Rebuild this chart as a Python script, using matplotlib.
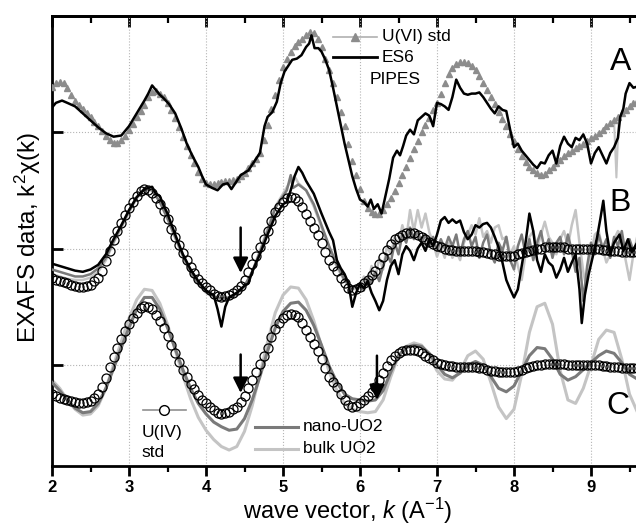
import numpy as np
import matplotlib
matplotlib.use("Agg")
import matplotlib.pyplot as plt
from matplotlib.ticker import MultipleLocator

plt.rcParams['font.family'] = ['Liberation Sans', 'DejaVu Sans']
plt.rcParams['mathtext.fontset'] = 'custom'
plt.rcParams['mathtext.rm'] = 'Liberation Sans'
plt.rcParams['mathtext.it'] = 'Liberation Sans:italic'

# ---- data ----
# panel A: U(VI) std, k = 2.00 .. 9.60 in 0.05 steps
uvi_std = [
    0.39, 0.42, 0.43, 0.42, 0.38, 0.32, 0.27, 0.23, 0.20, 0.16,
    0.13, 0.09, 0.05, 0.01, -0.03, -0.07, -0.09, -0.09, -0.07, -0.03,
    0.02, 0.07, 0.13, 0.18, 0.23, 0.30, 0.34, 0.35, 0.33, 0.30,
    0.25, 0.19, 0.12, 0.04, -0.04, -0.12, -0.20, -0.27, -0.34, -0.40,
    -0.44, -0.45, -0.45, -0.44, -0.43, -0.42, -0.42, -0.41, -0.40, -0.38,
    -0.35, -0.31, -0.27, -0.23, -0.18, -0.07, 0.06, 0.20, 0.32, 0.45,
    0.56, 0.63, 0.69, 0.74, 0.77, 0.80, 0.83, 0.86, 0.85, 0.80,
    0.73, 0.63, 0.53, 0.42, 0.30, 0.17, 0.05, -0.10, -0.25, -0.37,
    -0.49, -0.59, -0.65, -0.69, -0.70, -0.70, -0.67, -0.62, -0.57, -0.51,
    -0.44, -0.37, -0.30, -0.22, -0.15, -0.08, 0.00, 0.06, 0.12, 0.19,
    0.25, 0.33, 0.42, 0.50, 0.55, 0.58, 0.60, 0.60, 0.59, 0.57,
    0.53, 0.48, 0.42, 0.36, 0.30, 0.24, 0.17, 0.11, 0.05, -0.02,
    -0.08, -0.15, -0.21, -0.26, -0.30, -0.33, -0.35, -0.37, -0.36, -0.33,
    -0.30, -0.27, -0.24, -0.21, -0.18, -0.16, -0.14, -0.12, -0.10, -0.08,
    -0.05, -0.03, -0.01, 0.02, 0.05, 0.08, 0.10, 0.13, 0.16, 0.19,
    0.22, 0.25, 0.27,
]
uvi_glitch_k = [9.30, 9.33, 9.36]
uvi_glitch = [0.09, -0.39, 0.13]

es6_k = [
    2.00, 2.05, 2.13, 2.20, 2.30, 2.40, 2.50, 2.60, 2.70, 2.80, 2.90, 3.00,
    3.10, 3.20, 3.25, 3.30, 3.35, 3.40, 3.45, 3.52, 3.60, 3.68, 3.75, 3.82,
    3.90, 3.95, 4.00, 4.08, 4.15, 4.22, 4.28, 4.33, 4.40, 4.45, 4.50, 4.55,
    4.62, 4.70, 4.76, 4.80, 4.86, 4.92, 4.97, 5.02, 5.08, 5.12, 5.18, 5.24,
    5.30, 5.34, 5.37, 5.41, 5.46, 5.50, 5.55, 5.60, 5.65, 5.70, 5.75, 5.80,
    5.85, 5.90, 5.95, 6.00, 6.05, 6.10, 6.14, 6.18, 6.23, 6.28, 6.33, 6.38,
    6.43, 6.48, 6.52, 6.56, 6.60, 6.65, 6.70, 6.75, 6.80, 6.85, 6.90, 6.95,
    7.00, 7.05, 7.10, 7.15, 7.20, 7.25, 7.30, 7.35, 7.40, 7.45, 7.50, 7.55,
    7.60, 7.65, 7.70, 7.75, 7.80, 7.85, 7.90, 7.95, 8.00, 8.05, 8.10, 8.15,
    8.20, 8.25, 8.30, 8.35, 8.40, 8.45, 8.50, 8.55, 8.60, 8.65, 8.70, 8.75,
    8.80, 8.85, 8.90, 8.95, 9.00, 9.05, 9.10, 9.15, 9.20, 9.25, 9.30, 9.35,
    9.38, 9.42, 9.45, 9.50, 9.55, 9.60,
]
es6_pipes = [
    0.21, 0.25, 0.27, 0.25, 0.22, 0.16, 0.10, 0.04, -0.01, -0.04, -0.03, 0.05,
    0.16, 0.27, 0.33, 0.40, 0.36, 0.32, 0.29, 0.24, 0.16, 0.03, -0.10, -0.20,
    -0.30, -0.38, -0.45, -0.48, -0.50, -0.45, -0.44, -0.49, -0.42, -0.37, -0.35, -0.33,
    -0.26, -0.18, 0.05, 0.13, 0.17, 0.26, 0.42, 0.52, 0.58, 0.62, 0.63, 0.66,
    0.73, 0.76, 0.83, 0.72, 0.72, 0.69, 0.62, 0.53, 0.38, 0.22, 0.06, -0.10,
    -0.24, -0.38, -0.49, -0.58, -0.60, -0.64, -0.58, -0.66, -0.62, -0.70, -0.55, -0.40,
    -0.22, -0.16, -0.20, -0.12, -0.03, 0.02, -0.02, 0.10, 0.13, 0.16, 0.14, 0.05,
    0.25, 0.24, 0.22, 0.19, 0.30, 0.45, 0.38, 0.33, 0.32, 0.33, 0.33, 0.34,
    0.30, 0.25, 0.20, 0.16, 0.22, 0.19, 0.18, 0.02, -0.13, -0.10, -0.16, -0.20,
    -0.24, -0.28, -0.31, -0.26, -0.27, -0.20, -0.16, -0.27, -0.12, -0.04, -0.10, -0.13,
    -0.05, -0.07, -0.02, -0.10, -0.27, -0.18, -0.13, -0.20, -0.27, -0.18, -0.13, -0.05,
    0.13, 0.20, 0.33, 0.42, 0.38, 0.39,
]

# U(IV) std (shown in B and C), k = 2.00 .. 9.60 in 0.05 steps
uiv_std = [
    -0.25, -0.27, -0.28, -0.29, -0.30, -0.31, -0.32, -0.33, -0.33, -0.32,
    -0.31, -0.28, -0.25, -0.19, -0.11, -0.02, 0.07, 0.15, 0.22, 0.29,
    0.35, 0.40, 0.45, 0.49, 0.51, 0.50, 0.48, 0.43, 0.38, 0.32,
    0.25, 0.17, 0.10, 0.03, -0.04, -0.10, -0.16, -0.21, -0.26, -0.30,
    -0.33, -0.36, -0.39, -0.41, -0.42, -0.41, -0.40, -0.38, -0.36, -0.32,
    -0.27, -0.20, -0.13, -0.06, 0.01, 0.08, 0.15, 0.24, 0.31, 0.36,
    0.40, 0.43, 0.44, 0.43, 0.41, 0.36, 0.30, 0.24, 0.18, 0.12,
    0.05, -0.03, -0.10, -0.15, -0.19, -0.25, -0.30, -0.34, -0.36, -0.35,
    -0.33, -0.30, -0.27, -0.23, -0.19, -0.13, -0.07, -0.01, 0.04, 0.08,
    0.10, 0.12, 0.13, 0.13, 0.13, 0.12, 0.10, 0.08, 0.06, 0.04,
    0.02, 0.01, 0.00, -0.01, -0.01, -0.02, -0.02, -0.02, -0.02, -0.02,
    -0.02, -0.03, -0.03, -0.04, -0.05, -0.05, -0.06, -0.06, -0.06, -0.06,
    -0.06, -0.05, -0.04, -0.03, -0.02, -0.01, 0.00, 0.00, 0.01, 0.01,
    0.01, 0.01, 0.01, 0.01, 0.00, 0.00, 0.00, 0.00, 0.00, 0.00,
    0.00, 0.00, 0.00, -0.01, -0.01, -0.02, -0.02, -0.02, -0.03, -0.03,
    -0.03, -0.03, -0.03,
]

# panel B samples
b_black_k = [
    2.0, 2.1, 2.2, 2.3, 2.4, 2.5, 2.6, 2.7, 2.8, 2.9, 3.0, 3.1, 3.2, 3.3, 3.35,
    3.4, 3.45, 3.5, 3.6, 3.7, 3.8, 3.9, 4.0, 4.1, 4.15, 4.2, 4.25, 4.3, 4.4, 4.5,
    4.55, 4.6, 4.7, 4.8, 4.9, 5.0, 5.05, 5.1, 5.15, 5.2, 5.25, 5.3, 5.4, 5.5, 5.6,
    5.65, 5.7, 5.75, 5.8, 5.85, 5.9, 5.95, 6.0, 6.05, 6.1, 6.15, 6.2, 6.25, 6.3,
    6.35, 6.4, 6.45, 6.5, 6.55, 6.6, 6.65, 6.7, 6.75, 6.8, 6.85, 6.9, 6.95, 7.0,
    7.05, 7.1, 7.15, 7.2, 7.25, 7.3, 7.35, 7.4, 7.45, 7.5, 7.55, 7.6, 7.65, 7.7,
    7.75, 7.8, 7.85, 7.9, 7.95, 8.0, 8.05, 8.1, 8.15, 8.2, 8.25, 8.3, 8.35, 8.4,
    8.45, 8.5, 8.55, 8.6, 8.65, 8.7, 8.75, 8.8, 8.85, 8.88, 8.92, 8.97, 9.03,
    9.08, 9.12, 9.16, 9.2, 9.25, 9.3, 9.37, 9.42, 9.48, 9.53, 9.6,
]
b_black = [
    -0.13, -0.15, -0.17, -0.19, -0.20, -0.18, -0.14, -0.05, 0.08, 0.20, 0.33, 0.44, 0.51, 0.53, 0.47,
    0.45, 0.37, 0.30, 0.12, -0.05, -0.18, -0.28, -0.36, -0.40, -0.52, -0.67, -0.50, -0.42, -0.38, -0.32,
    -0.30, -0.20, -0.05, 0.12, 0.28, 0.38, 0.40, 0.50, 0.62, 0.70, 0.65, 0.58, 0.47, 0.30, 0.14,
    0.07, -0.10, -0.17, -0.22, -0.30, -0.50, -0.38, -0.30, -0.34, -0.28, -0.38, -0.45, -0.53, -0.45,
    -0.27, -0.15, -0.10, -0.22, -0.05, 0.02, -0.02, -0.10, 0.00, 0.05, -0.02, 0.08, 0.02, 0.12,
    0.24, 0.27, 0.22, 0.25, 0.22, 0.24, 0.14, 0.08, 0.12, 0.20, 0.18, 0.21, 0.22, 0.18,
    0.10, 0.01, -0.12, -0.27, -0.35, -0.42, -0.35, -0.15, 0.05, 0.30, 0.15, -0.10, -0.20, -0.05,
    -0.12, -0.15, -0.25, -0.18, -0.08, -0.20, -0.12, -0.05, -0.35, -0.64, -0.40, -0.22, -0.05,
    0.10, 0.25, 0.41, 0.15, -0.05, 0.05, 0.12, -0.02, 0.08, -0.03, 0.05,
]

b_dark_k = [
    2.0, 2.1, 2.2, 2.3, 2.4, 2.5, 2.6, 2.7, 2.8, 2.9, 3.0, 3.1, 3.2, 3.3, 3.4,
    3.5, 3.6, 3.7, 3.8, 3.9, 4.0, 4.1, 4.2, 4.3, 4.4, 4.5, 4.6, 4.7, 4.8, 4.9,
    5.0, 5.05, 5.1, 5.13, 5.2, 5.3, 5.4, 5.5, 5.6, 5.7, 5.8, 5.9, 6.0, 6.05, 6.1,
    6.15, 6.2, 6.25, 6.3, 6.35, 6.4, 6.45, 6.5, 6.55, 6.6, 6.65, 6.7, 6.75, 6.8,
    6.85, 6.9, 6.95, 7.0, 7.05, 7.1, 7.15, 7.2, 7.25, 7.3, 7.35, 7.4, 7.45, 7.5,
    7.55, 7.6, 7.65, 7.7, 7.75, 7.8, 7.85, 7.9, 7.95, 8.0, 8.05, 8.1, 8.15, 8.2,
    8.25, 8.3, 8.35, 8.4, 8.45, 8.5, 8.55, 8.6, 8.65, 8.7, 8.75, 8.8, 8.85, 8.9,
    8.95, 9.0, 9.05, 9.1, 9.15, 9.2, 9.25, 9.3, 9.35, 9.4, 9.45, 9.5, 9.55, 9.6,
]
b_dark = [
    -0.18, -0.20, -0.22, -0.24, -0.24, -0.22, -0.17, -0.08, 0.06, 0.19, 0.32, 0.44, 0.51, 0.50, 0.40,
    0.26, 0.10, -0.06, -0.20, -0.30, -0.37, -0.41, -0.43, -0.42, -0.38, -0.32, -0.20, -0.03, 0.15, 0.35,
    0.45, 0.50, 0.63, 0.52, 0.55, 0.50, 0.38, 0.20, 0.02, -0.14, -0.27, -0.34, -0.30, -0.36, -0.25,
    -0.30, -0.20, -0.28, -0.15, -0.05, -0.12, 0.05, -0.05, 0.12, 0.05, 0.18, 0.08, 0.15, 0.05,
    0.12, 0.02, 0.10, -0.02, 0.08, 0.00, 0.10, 0.02, 0.12, -0.05, 0.08, 0.15, 0.02, 0.10,
    -0.08, 0.05, 0.12, -0.05, -0.12, 0.05, -0.02, 0.10, -0.10, -0.18, 0.02, 0.12, -0.05, 0.08,
    -0.10, 0.05, 0.15, -0.02, 0.08, -0.08, 0.05, 0.10, -0.05, 0.12, -0.02, -0.20, -0.08, -0.45,
    -0.15, 0.05, -0.05, 0.12, 0.00, 0.08, -0.08, 0.10, 0.02, 0.15, -0.05, 0.08, -0.02, 0.05,
]

b_light_k = [
    2.0, 2.1, 2.2, 2.3, 2.4, 2.5, 2.6, 2.7, 2.8, 2.9, 3.0, 3.1, 3.2, 3.3, 3.4,
    3.5, 3.6, 3.7, 3.8, 3.9, 4.0, 4.1, 4.2, 4.3, 4.4, 4.5, 4.6, 4.7, 4.8, 4.9,
    5.0, 5.1, 5.15, 5.2, 5.3, 5.4, 5.5, 5.6, 5.7, 5.8, 5.9, 6.0, 6.05, 6.1, 6.15,
    6.2, 6.25, 6.3, 6.35, 6.4, 6.45, 6.5, 6.55, 6.6, 6.65, 6.7, 6.75, 6.8, 6.85,
    6.9, 6.95, 7.0, 7.05, 7.1, 7.15, 7.2, 7.25, 7.3, 7.35, 7.4, 7.45, 7.5, 7.55,
    7.6, 7.65, 7.7, 7.75, 7.8, 7.85, 7.9, 7.95, 8.0, 8.05, 8.1, 8.15, 8.2, 8.25,
    8.3, 8.35, 8.4, 8.45, 8.5, 8.55, 8.6, 8.65, 8.7, 8.75, 8.8, 8.85, 8.9, 8.93,
    9.0, 9.05, 9.1, 9.15, 9.2, 9.25, 9.3, 9.35, 9.4, 9.45, 9.5, 9.55, 9.6,
]
b_light = [
    -0.22, -0.24, -0.26, -0.27, -0.27, -0.25, -0.20, -0.10, 0.05, 0.18, 0.31, 0.43, 0.52, 0.50, 0.40,
    0.25, 0.09, -0.07, -0.21, -0.31, -0.38, -0.42, -0.44, -0.43, -0.40, -0.33, -0.20, -0.02, 0.17, 0.36,
    0.47, 0.58, 0.62, 0.56, 0.50, 0.36, 0.18, 0.00, -0.16, -0.28, -0.35, -0.34, -0.24, -0.32, -0.15,
    -0.25, -0.08, -0.18, 0.02, -0.05, 0.10, 0.04, 0.20, 0.08, 0.33, 0.15, 0.33, 0.18, 0.30,
    0.14, 0.05, -0.07, 0.02, -0.08, 0.05, -0.08, -0.02, -0.10, 0.05, 0.12, 0.20, 0.12, 0.26,
    0.10, 0.15, 0.05, 0.18, 0.20, 0.08, 0.10, -0.05, 0.02, -0.15, -0.27, -0.05, 0.10, 0.15,
    0.00, 0.12, 0.23, 0.10, 0.05, -0.05, 0.08, 0.15, 0.02, 0.20, 0.33, 0.05, -0.20, -0.30,
    -0.05, 0.12, 0.15, 0.00, -0.12, -0.05, 0.08, 0.15, 0.10, -0.10, -0.27, -0.05, 0.10,
]

# panel C references, k = 2.0 .. 9.6 in 0.1 steps
nano_uo2 = [
    -0.15, -0.22, -0.30, -0.37, -0.41, -0.40, -0.33, -0.20, -0.03, 0.15,
    0.32, 0.48, 0.58, 0.58, 0.48, 0.32, 0.14, -0.04, -0.20, -0.33,
    -0.42, -0.49, -0.53, -0.56, -0.55, -0.46, -0.30, -0.10, 0.12, 0.32,
    0.46, 0.53, 0.54, 0.47, 0.34, 0.17, -0.01, -0.15, -0.25, -0.29,
    -0.30, -0.31, -0.30, -0.22, -0.06, 0.08, 0.15, 0.17, 0.16, 0.10,
    0.00, -0.08, -0.11, -0.07, 0.00, 0.03, 0.00, -0.10, -0.20, -0.23,
    -0.18, -0.05, 0.08, 0.15, 0.14, 0.05, -0.08, -0.13, -0.10, -0.04,
    0.02, 0.08, 0.12, 0.10, 0.02, -0.08, -0.12,
]
bulk_uo2 = [
    -0.13, -0.20, -0.30, -0.38, -0.43, -0.42, -0.35, -0.20, 0.00, 0.20,
    0.40, 0.56, 0.65, 0.64, 0.53, 0.35, 0.13, -0.09, -0.29, -0.45,
    -0.56, -0.64, -0.70, -0.73, -0.70, -0.57, -0.35, -0.08, 0.20, 0.45,
    0.60, 0.67, 0.66, 0.56, 0.38, 0.16, -0.06, -0.22, -0.33, -0.38,
    -0.40, -0.41, -0.40, -0.30, -0.10, 0.08, 0.16, 0.19, 0.17, 0.08,
    -0.05, -0.12, -0.13, -0.05, 0.08, 0.12, 0.05, -0.15, -0.36, -0.46,
    -0.38, -0.08, 0.28, 0.50, 0.53, 0.35, -0.05, -0.30, -0.33, -0.20,
    0.00, 0.22, 0.30, 0.28, 0.05, -0.25, -0.40,
]

offsets = {'A': 2.0, 'B': 1.0, 'C': 0.0}
arrows = [(4.45, 1.18, 0.79), (4.45, 0.09, -0.24), (6.22, 0.08, -0.30)]

k05_uvi = 2.0 + 0.05 * np.arange(len(uvi_std))
k05_uiv = 2.0 + 0.05 * np.arange(len(uiv_std))
k10_c = 2.0 + 0.1 * np.arange(len(nano_uo2))

GRAY_TRI = '#8c8c8c'
DARK = '#7a7a7a'
LIGHT = '#c4c4c4'

fig = plt.figure(figsize=(6.36, 5.27), dpi=100)
ax = fig.add_axes([52 / 636, 1 - 466 / 527, (668 - 52) / 636, (466 - 16) / 527])
ax.set_xlim(2, 10)
ax.set_ylim(-0.867, 2.996)

# A
oa = offsets['A']
ax.plot(uvi_glitch_k, np.array(uvi_glitch) + oa, color=LIGHT, lw=1.5, zorder=2)
ax.plot(k05_uvi, np.array(uvi_std) + oa, ls='none', marker='^', ms=5,
        color=GRAY_TRI, mec=GRAY_TRI, zorder=3)
ax.plot(es6_k, np.array(es6_pipes) + oa, color='black', lw=1.8, zorder=4)

# B
ob = offsets['B']
ax.plot(b_light_k, np.array(b_light) + ob, color=LIGHT, lw=1.8, zorder=2)
ax.plot(b_dark_k, np.array(b_dark) + ob, color=DARK, lw=1.8, zorder=3)
ax.plot(b_black_k, np.array(b_black) + ob, color='black', lw=1.8, zorder=4)
ax.plot(k05_uiv, np.array(uiv_std) + ob, ls='none', marker='o', ms=6.5,
        mfc='none', mec='black', mew=0.9, zorder=5)

# C
oc = offsets['C']
ax.plot(k10_c, np.array(bulk_uo2) + oc, color=LIGHT, lw=2.2, zorder=2)
ax.plot(k10_c, np.array(nano_uo2) + oc, color=DARK, lw=2.2, zorder=3)
ax.plot(k05_uiv, np.array(uiv_std) + oc, ls='none', marker='o', ms=6.5,
        mfc='none', mec='black', mew=0.9, zorder=5)

for x, y0, y1 in arrows:
    ax.annotate('', xy=(x, y1), xytext=(x, y0),
                arrowprops=dict(arrowstyle='-|>,head_length=0.9,head_width=0.45',
                                color='black', lw=1.8, shrinkA=0, shrinkB=0),
                zorder=6)

# panel letters
ax.text(9.38, 2.60, 'A', fontsize=23, ha='center', va='center')
ax.text(9.38, 1.39, 'B', fontsize=23, ha='center', va='center')
ax.text(9.35, -0.35, 'C', fontsize=23, ha='center', va='center')

# hand-made legends
lfs = 12.5
ax.plot([5.65, 6.22], [2.82, 2.82], color='#b0b0b0', lw=1.2)
ax.plot([5.93], [2.82], marker='^', ms=6, color=GRAY_TRI)
ax.text(6.28, 2.82, 'U(VI) std', fontsize=lfs, va='center')
ax.plot([5.65, 6.22], [2.64, 2.64], color='black', lw=2)
ax.text(6.28, 2.64, 'ES6', fontsize=lfs, va='center')
ax.text(6.13, 2.455, 'PIPES', fontsize=lfs, va='center')

ax.plot([3.18, 3.74], [-0.386, -0.386], color='#909090', lw=1.2)
ax.plot([3.46], [-0.386], marker='o', ms=7, mfc='white', mec='black', mew=1)
ax.text(3.16, -0.58, 'U(IV)', fontsize=lfs, va='center')
ax.text(3.16, -0.75, 'std', fontsize=lfs, va='center')
ax.plot([4.64, 5.19], [-0.53, -0.53], color=DARK, lw=2.2)
ax.text(5.26, -0.53, 'nano-UO2', fontsize=lfs, va='center')
ax.plot([4.64, 5.19], [-0.72, -0.72], color=LIGHT, lw=2.2)
ax.text(5.26, -0.72, 'bulk UO2', fontsize=lfs, va='center')

# axes styling
ax.set_xticks(range(2, 10))
ax.xaxis.set_minor_locator(MultipleLocator(0.5))
ax.set_yticks([0, 1, 2])
ax.set_yticklabels([])
ax.tick_params(axis='x', which='major', direction='out', length=7, width=2,
               labelsize=12, pad=3)
ax.tick_params(axis='x', which='minor', direction='out', length=4, width=1.6)
ax.tick_params(axis='y', which='major', direction='in', length=8, width=2)
for lab in ax.get_xticklabels():
    lab.set_fontweight('bold')
for side in ['left', 'bottom', 'top']:
    ax.spines[side].set_linewidth(2)
ax.spines['right'].set_visible(False)

top = ax.secondary_xaxis('top')
top.set_xticks(range(2, 10))
top.xaxis.set_minor_locator(MultipleLocator(0.5))
top.tick_params(axis='x', which='major', direction='in', length=8, width=2, labeltop=False)
top.tick_params(axis='x', which='minor', direction='in', length=5, width=1.6)
top.spines['top'].set_linewidth(2)

ax.grid(True, which='major', ls=':', color='#b5b5b5', lw=0.8)
ax.set_axisbelow(True)

ax.set_xlabel('wave vector, $k$ (A$^{-1}$)', fontsize=17)
ax.xaxis.set_label_coords((348 - 52) / 616, -(496 - 466) / 450)
ax.set_ylabel('EXAFS data, k$^2$χ(k)', fontsize=17.5)
ax.yaxis.set_label_coords((43 - 52) / 616, 1 - (238 - 16) / 450)

fig.savefig('out.png', dpi=100)
